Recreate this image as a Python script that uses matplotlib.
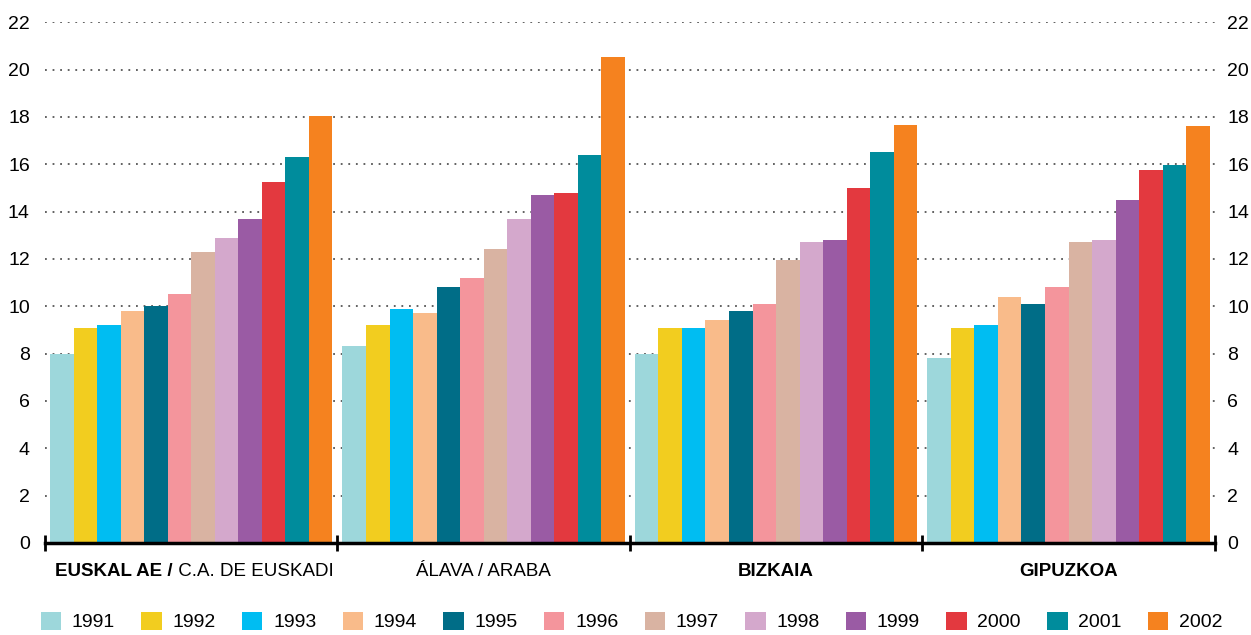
import numpy as np
import matplotlib.pyplot as plt
from matplotlib.patches import Patch

plt.rcParams['font.family'] = ['Liberation Sans', 'DejaVu Sans']

# Regions and years
regions = ['EUSKAL AE / C.A. DE EUSKADI', 'ÁLAVA / ARABA', 'BIZKAIA', 'GIPUZKOA']
years = ['1991', '1992', '1993', '1994', '1995', '1996',
         '1997', '1998', '1999', '2000', '2001', '2002']

# values per region, one per year
euskadi = [8.0, 9.1, 9.2, 9.8, 10.0, 10.5, 12.3, 12.9, 13.7, 15.25, 16.3, 18.05]
alava = [8.3, 9.2, 9.9, 9.7, 10.8, 11.2, 12.4, 13.7, 14.7, 14.8, 16.4, 20.55]
bizkaia = [8.0, 9.1, 9.1, 9.4, 9.8, 10.1, 11.95, 12.7, 12.8, 15.0, 16.5, 17.65]
gipuzkoa = [7.8, 9.1, 9.2, 10.4, 10.1, 10.8, 12.7, 12.8, 14.5, 15.75, 15.95, 17.6]

colors = ['#9dd7db', '#f2cd1f', '#00bdf2', '#f9bb8a', '#006d87', '#f4959c',
          '#d9b3a2', '#d4a8cc', '#9a5ba4', '#e3393f', '#008c9c', '#f5821f']

data = np.array([euskadi, alava, bizkaia, gipuzkoa])

fig = plt.figure(figsize=(12.51, 6.35), dpi=100)
ax = fig.add_axes([0.036, 0.145, 0.935, 0.82])

w = 0.0805
x = np.arange(len(regions))
for j, yr in enumerate(years):
    ax.bar(x + (j - 5.5) * w, data[:, j], width=w, color=colors[j], zorder=2)

ax.set_xlim(-0.5, 3.5)
ax.set_ylim(0, 22)
yt = np.arange(0, 23, 2)
ax.set_yticks(yt)
for v in yt[1:]:
    ax.axhline(v, color='#555555', lw=1.3, linestyle=(0, (1, 3.2)), zorder=1)

for s in ['top', 'right', 'left']:
    ax.spines[s].set_visible(False)
ax.spines['bottom'].set_linewidth(2.5)
ax.spines['bottom'].set_zorder(3)

ax.set_xticks(np.arange(-0.5, 4, 1))
ax.set_xticklabels([])
ax.tick_params(axis='x', direction='inout', length=11, width=2)
ax.tick_params(axis='y', length=0, pad=11, labelsize=14)

ax2 = ax.twinx()
ax2.set_ylim(0, 22)
ax2.set_yticks(yt)
for s in ax2.spines.values():
    s.set_visible(False)
ax2.tick_params(axis='y', length=0, pad=9, labelsize=14)

# category labels
ly = 0.1
fs = 13.5
t1 = fig.text(55 / 1251, ly, 'EUSKAL AE /', fontsize=fs, fontweight='bold', va='center', ha='left')
ax.annotate(' C.A. DE EUSKADI', xy=(1, 0.5), xycoords=t1, va='center', ha='left', fontsize=fs)
fig.text(ax.transData.transform((1, 0))[0] / fig.bbox.width, ly, 'ÁLAVA / ARABA',
         fontsize=fs, ha='center', va='center')
fig.text(ax.transData.transform((2, 0))[0] / fig.bbox.width, ly, 'BIZKAIA',
         fontsize=fs, fontweight='bold', ha='center', va='center')
fig.text(ax.transData.transform((3, 0))[0] / fig.bbox.width, ly, 'GIPUZKOA',
         fontsize=fs, fontweight='bold', ha='center', va='center')

handles = [Patch(facecolor=c, label=y) for c, y in zip(colors, years)]
fig.legend(handles=handles, ncol=12, loc='lower center', bbox_to_anchor=(0.505, -0.022),
           frameon=False, fontsize=14, handlelength=1.05, handleheight=1.05,
           handletextpad=0.55, columnspacing=1.35)

fig.savefig('out.png', dpi=100)
